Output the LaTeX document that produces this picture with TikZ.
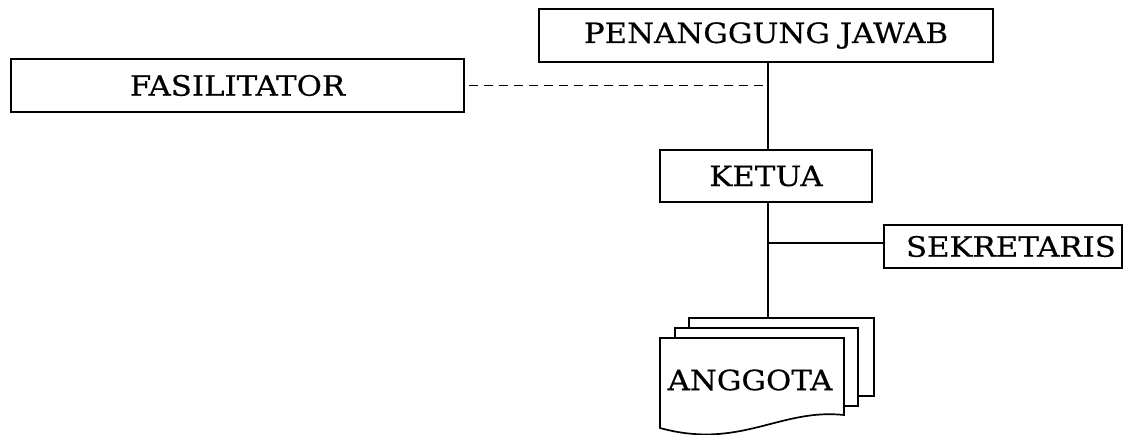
\documentclass[tikz,border=0pt]{standalone}
\usepackage{fontspec}
\setmainfont{DejaVu Serif}[FakeStretch=1.1,FakeBold=0.5]
\begin{document}
\begin{tikzpicture}[x=1pt,y=-1pt, line width=1.7pt,
  lbl/.style={font=\fontsize{28}{32}\selectfont},
  box/.style={draw, fill=white, inner sep=0pt, lbl},
  page/.style={draw, fill=white, line join=miter}]
\useasboundingbox (0,0) rectangle (1131,435);
\node[box, minimum width=454pt, minimum height=53pt] (pj) at (766,35.5) {PENANGGUNG JAWAB};
\node[box, minimum width=453pt, minimum height=53pt] (fas) at (237.5,85.5) {FASILITATOR};
\node[box, minimum width=212pt, minimum height=52pt] (ketua) at (766,176) {KETUA};
\node[box, minimum width=238pt, minimum height=43pt, text width=238pt, align=left] (sek) at (1003,246.5) {\hspace*{22pt}SEKRETARIS};
% stacked pages
\draw[page] (689,318) rectangle (874,396);
\draw[page] (675,328) rectangle (858,406);
\draw[page] (660,338) -- (844,338) -- (844,415) .. controls (780,408) and (740,450) .. (660,428) -- cycle;
\node[lbl] (ang) at (750,380) {ANGGOTA};
\coordinate (spine) at (768,0);
\coordinate (stack) at (768,318);
% connectors
\draw (pj.south -| spine) -- (ketua.north -| spine);
\draw (ketua.south -| spine) -- (stack);
\draw[dash pattern=on 9pt off 6pt] ([xshift=4pt]fas.east) -- (fas.east -| spine);
\draw ([yshift=3.5pt]sek.west -| spine) -- ([yshift=3.5pt]sek.west);
\end{tikzpicture}
\end{document}
